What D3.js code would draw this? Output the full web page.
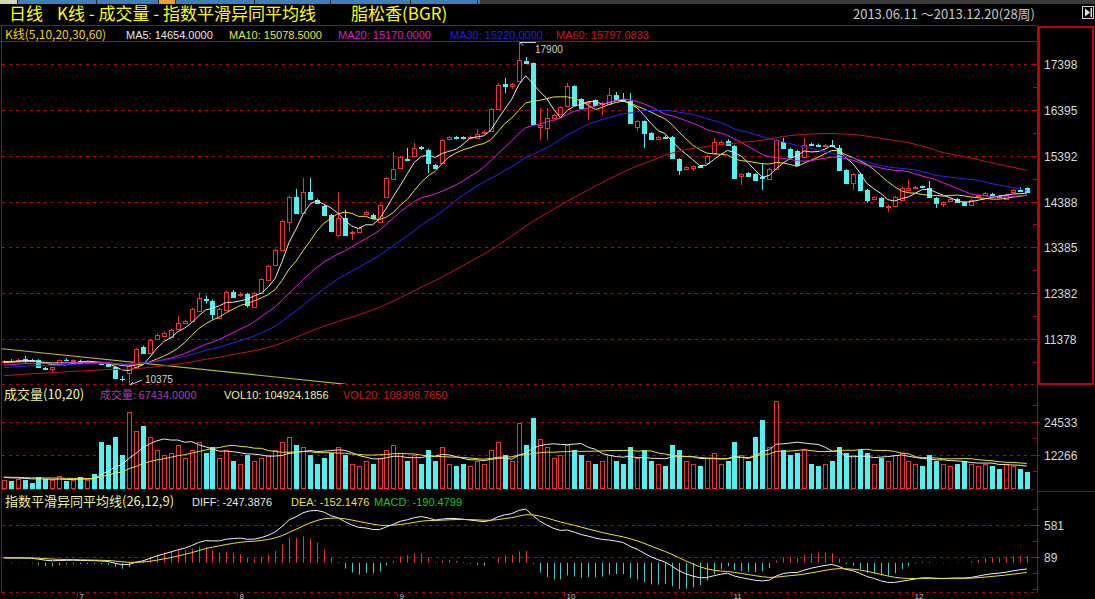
<!DOCTYPE html>
<html><head><meta charset="utf-8">
<script src="https://cdn.jsdelivr.net/npm/d3@7"></script>
<style>
html,body{margin:0;padding:0;background:#000;overflow:hidden;}
svg{display:block;}
</style></head><body>
<svg id="c" width="1095" height="599"></svg>
<script>
// ---------------- DATA ----------------
const open  = [10860,10890,10880,10930,10910,10910,10740,10710,10820,10915,10890,10900,10850,10860,10850,10830,10760,10500,10626,10747,
11207,11076,11382,11448,11426,11601,11730,11776,11995,12240,12214,11842,12017,12411,12330,12367,12083,12390,12674,13002,
13331,13944,14492,14141,14601,14426,14295,14098,13660,14032,13703,13725,14120,14098,13944,14492,14886,15127,15324,15389,
15575,15521,15192,15236,15770,15800,15800,15780,15783,15890,15937,16419,16970,16930,17032,17470,17420,16020,16003,16222,
16310,16485,16923,16638,16540,16616,16530,16529,16726,16630,16595,16025,16156,15894,15762,15810,15806,15324,15105,15130,
15170,15236,15455,15660,15718,15609,14950,15017,14995,14920,14886,15105,15696,15543,15499,15367,15660,15640,15600,15640,
15565,15083,14798,14995,14645,14448,14470,14270,14295,14426,14650,14680,14720,14689,14470,14340,14410,14450,14380,14317,
14500,14540,14560,14500,14448,14600,14640,14680];
const high  = [10910,10930,10950,11000,10940,10930,10760,10760,10930,10950,10930,10920,10890,10880,10870,10850,10770,10560,10810,11180,
11230,11380,11500,11540,11600,11886,11800,12060,12390,12330,12240,12060,12440,12450,12400,12390,12410,12720,13000,13350,
13990,14520,14667,14908,14908,14450,14320,14120,14601,14207,13750,13830,14190,14120,14340,14930,15477,15390,15565,15674,
15610,15550,15210,15760,15830,15830,15820,15840,15980,15950,16440,16989,17098,16990,17900,17558,17440,16441,16441,16310,
16480,16989,16940,16660,16590,16630,16580,16879,16791,16770,16770,16170,16170,15910,15830,15840,15830,15340,15170,15180,
15190,15410,15784,15740,15760,15630,15010,15040,15010,15236,15130,15760,15784,15570,15520,15784,15680,15660,15650,15740,
15630,15100,15020,15020,14670,14510,14490,14320,14510,14720,14864,14730,14740,14842,14490,14390,14460,14470,14400,14450,
14550,14600,14580,14520,14560,14660,14700,14700];
const low   = [10840,10860,10860,10850,10880,10740,10690,10650,10800,10880,10870,10830,10830,10820,10800,10780,10500,10440,10375,10730,
11050,11060,11350,11420,11400,11580,11700,11760,11980,12150,11798,11820,12000,12280,12300,12061,12060,12370,12650,12980,
13310,13725,14120,14120,14420,14330,14070,13720,13616,13640,13550,13700,14090,14010,13920,14470,14860,15100,15280,15370,
15520,15017,15100,15210,15750,15750,15750,15760,15760,15870,15920,16400,16770,16857,17020,17400,16070,15740,15740,16200,
16290,16470,16490,16420,16178,16490,16288,16510,16620,16580,16090,15937,15565,15740,15740,15770,15320,14973,15080,15060,
15120,15210,15430,15640,15610,14880,14755,14930,14840,14645,14860,15080,15540,15340,15170,15340,15610,15590,15580,15590,
15060,14780,14645,14620,14360,14420,14270,14160,14270,14400,14620,14660,14680,14470,14250,14270,14390,14360,14290,14300,
14480,14520,14510,14460,14430,14580,14600,14580];
const close = [10890,10880,10920,10920,10900,10760,10710,10750,10910,10905,10910,10840,10870,10850,10830,10790,10520,10490,10780,11163,
11076,11360,11470,11514,11579,11732,11770,12039,12280,12225,11930,12039,12411,12302,12370,12126,12390,12696,12980,13331,
13966,14492,14141,14601,14448,14360,14098,13747,14032,13660,13725,13813,14163,14032,14317,14908,15105,15367,15302,15565,
15555,15236,15127,15740,15800,15780,15775,15810,15870,15920,16419,16945,16930,16960,17492,17420,16091,16060,16222,16288,
16463,16923,16507,16441,16570,16507,16560,16726,16638,16600,16112,16156,15894,15762,15806,15790,15346,15083,15149,15160,
15150,15389,15696,15690,15630,14908,14990,14951,14864,14900,15105,15740,15565,15367,15192,15630,15630,15610,15630,15610,
15083,14798,14995,14645,14426,14492,14295,14300,14492,14689,14680,14710,14700,14492,14360,14370,14440,14380,14317,14426,
14530,14580,14530,14480,14536,14640,14620,14600];
const volume = [3000,2500,3500,3000,2000,4000,3500,3000,4500,2500,3000,4000,3000,5000,17000,16000,19000,12000,28000,21000,
23000,19000,14000,12000,13000,16000,11000,14000,17000,13000,15000,11000,14000,10000,9000,12000,10000,11000,12000,14000,
17000,19000,16000,15000,12000,9000,11000,13000,15000,12000,9000,8000,10000,9000,11000,14000,16000,13000,10000,12000,
9000,14000,10000,15000,9000,8000,9000,8000,10000,9000,14000,17000,12000,10000,24000,16000,26000,18000,15000,11000,
12000,16000,14000,12000,10000,9000,10000,12000,10000,9000,15000,11000,14000,10000,9000,8000,16000,14000,10000,9000,
8000,11000,13000,9000,10000,17000,12000,10000,19000,25000,15000,32000,14000,12000,13000,14000,9000,8000,9000,10000,
15000,13000,12000,14000,13000,9000,11000,10000,12000,13000,10000,9000,8000,12000,10000,9000,8000,9000,10000,9000,
8000,9000,8000,7000,9000,8000,7000,6000];
// closes / volumes before the visible window (needed by the moving averages and MACD)
const historyClose = [10240,10270,10230,10260,10300,10280,10310,10290,10330,10350,
10320,10360,10380,10350,10390,10410,10380,10420,10440,10410,
10450,10470,10440,10480,10500,10470,10510,10530,10560,10540,
10570,10600,10580,10620,10640,10610,10650,10680,10660,10700,
10720,10690,10730,10750,10720,10760,10780,10760,10800,10820,
10790,10830,10850,10820,10860,10880,10850,10870,10890];
const historyVolume = [4000,3500,5000,4200,3800,4500,3000,5200,4100,3600,4400,3900,4800,3500,4200,3700,4600,3300,4000];
const maPeriods = [5,10,20,30,60];
const maColors  = ["#e8e8e8","#e8e040","#e020e0","#2828f0","#c81414"];
const priceTicks = [11378,12382,13385,14388,15392,16395,17398];
const volumeTicks = [12266,24533];
const macdTicks = [89,581];
const monthLabels = ["7","8","9","10","11","12"];
const monthStart  = [11,34,57,81,105,131];
const trendLine = [{i:-0.5, v:11163},{i:49.2, v:10380}];

// ---------------- DRAW ----------------
const svg = d3.select("#c");
const RED = "#b40000", UP = "#f03232", DOWN = "#54f0f0";
const CJK = "'Noto Sans CJK SC','Noto Sans',sans-serif";
const LAT = "'Liberation Sans',Arial,sans-serif";
svg.append("rect").attr("width",1095).attr("height",599).attr("fill","#000");

// top tab strip
const strip = svg.append("g");
strip.append("rect").attr("x",0).attr("y",0).attr("width",1095).attr("height",4).attr("fill","#3a3a3a");
strip.append("rect").attr("x",0).attr("y",0).attr("width",480).attr("height",4).attr("fill","#3f7fb8");
strip.append("rect").attr("x",0).attr("y",0).attr("width",17).attr("height",4).attr("fill","#d8d8b0");
strip.append("rect").attr("x",158).attr("y",0).attr("width",17).attr("height",4).attr("fill","#f0a030");
[17,96,158,175,254,330,410,477].forEach(s=>strip.append("rect").attr("x",s).attr("y",0).attr("width",1).attr("height",4).attr("fill","#202020"));

// title
svg.append("text").attr("x",9).attr("y",20).attr("fill","#ffff00").attr("font-family",CJK).attr("font-size",17).text("日线");
svg.append("text").attr("x",57).attr("y",20).attr("fill","#ffff00").attr("font-family",CJK).attr("font-size",17).text("K线 - 成交量 - 指数平滑异同平均线");
svg.append("text").attr("x",351).attr("y",20).attr("fill","#ffff00").attr("font-family",CJK).attr("font-size",17).text("脂松香(BGR)");
svg.append("text").attr("x",1035).attr("y",19).attr("text-anchor","end").attr("fill","#c8c8c8").attr("font-family",CJK).attr("font-size",13).text("2013.06.11 ～2013.12.20(28周)");
// small button
svg.append("rect").attr("x",1082.5).attr("y",6.5).attr("width",11).attr("height",12).attr("fill","#000").attr("stroke","#d0d0d0");
svg.append("path").attr("d","M1085,8.5 L1090,12.5 L1085,16.5 Z").attr("fill","#e0e0e0");
svg.append("rect").attr("x",1090.5).attr("y",8).attr("width",1.5).attr("height",9).attr("fill","#e0e0e0");

// scales
const N = close.length;
const x = d3.scaleLinear().domain([0, N-1]).range([3.7, 1026.8]);
const yP = d3.scaleLinear().domain([10375, 17900]).range([384.5, 41.5]);
const yV = d3.scaleLinear().domain([0, 32000]).range([488, 401.3]);
const yM = d3.scaleLinear().domain([-450, 860]).range([592, 507]);
const cx = i => Math.round(x(i));

// frame lines
const frame = svg.append("g");
function hline(y, x1, x2, dashed, color){ frame.append("line").attr("x1",x1).attr("x2",x2).attr("y1",y).attr("y2",y)
  .attr("stroke",color||RED).attr("stroke-width",1).attr("stroke-dasharray",dashed?"3,4":null); }
hline(25.5,0,1038); hline(41.5,0,1038);
frame.append("line").attr("x1",1.5).attr("x2",1.5).attr("y1",25).attr("y2",593).attr("stroke",RED);
frame.append("line").attr("x1",1037.5).attr("x2",1037.5).attr("y1",25).attr("y2",593).attr("stroke",RED);
hline(384.5,2,1037,true); hline(489.5,2,1037,true); hline(592.5,2,1037,true);
hline(491.5,1037,1095);
// right axis box of main panel
frame.append("rect").attr("x",1039).attr("y",27).attr("width",54).attr("height",357).attr("fill","none").attr("stroke","#c00000").attr("stroke-width",2);

// grid lines + axis labels
priceTicks.forEach(t=>hline(Math.round(yP(t))+0.5,2,1037,true));
volumeTicks.forEach(t=>hline(Math.round(yV(t))+0.5,2,1037,true));
macdTicks.forEach(t=>hline(Math.round(yM(t))+0.5,2,1037,true));
function axisLabels(ticks, sc, minor){
  ticks.forEach(t=>{
    const y = Math.round(sc(t))+0.5;
    frame.append("line").attr("x1",1031).attr("x2",1040).attr("y1",y).attr("y2",y).attr("stroke",RED);
    svg.append("text").attr("x",1044).attr("y",y+4.5).attr("fill","#d8d8d8").attr("font-family",LAT).attr("font-size",12).text(t);
  });
  minor.forEach(t=>{ const y = Math.round(sc(t))+0.5;
    frame.append("line").attr("x1",1033).attr("x2",1037).attr("y1",y).attr("y2",y).attr("stroke",RED); });
}
const pStep = priceTicks[1]-priceTicks[0];
axisLabels(priceTicks, yP, priceTicks.map(t=>t+pStep/2).concat([priceTicks[0]-pStep/2]).filter(t=>yP(t)>42&&yP(t)<384));
axisLabels(volumeTicks, yV, [volumeTicks[0]/2, volumeTicks[0]*1.5, volumeTicks[1]+volumeTicks[0]/2]);
axisLabels(macdTicks, yM, [macdTicks[0]-(macdTicks[1]-macdTicks[0])/2, (macdTicks[0]+macdTicks[1])/2, macdTicks[1]+(macdTicks[1]-macdTicks[0])/2, macdTicks[0]-(macdTicks[1]-macdTicks[0])]);

// legends
function legend(items, y){
  items.forEach(([tx,xx,col,fam,fs])=>svg.append("text").attr("x",xx).attr("y",y).attr("fill",col).attr("font-family",fam).attr("font-size",fs).text(tx));
}
legend([["K线(5,10,20,30,60)",5,"#f0d020",CJK,12],["MA5: 14654.0000",126,"#e8e8e8",LAT,11],["MA10: 15078.5000",229,"#e8e040",LAT,11],
  ["MA20: 15170.0000",338,"#d020d0",LAT,11],["MA30: 15220.0000",450,"#2020e8",LAT,11],["MA60: 15797.0833",556,"#d01818",LAT,11]],38.5);
legend([["成交量(10,20)",4,"#f0f0a0",CJK,13],["成交量: 67434.0000",100,"#a040b0",CJK,11],["VOL10: 104924.1856",224,"#f0f0a0",LAT,11],
  ["VOL20: 108398.7650",343,"#d01818",LAT,11]],399);
legend([["指数平滑异同平均线(26,12,9)",5,"#f0f0a0",CJK,13],["DIFF: -247.3876",192,"#e8e8e8",LAT,11],["DEA: -152.1476",291,"#e8e040",LAT,11],
  ["MACD: -190.4799",374,"#20c020",LAT,11]],505.5);

// clip for the price panel
svg.append("clipPath").attr("id","cp").append("rect").attr("x",2).attr("y",42).attr("width",1035).attr("height",342);
const pg = svg.append("g").attr("clip-path","url(#cp)");

// trend line annotation
pg.append("line").attr("x1",x(trendLine[0].i)).attr("y1",yP(trendLine[0].v)).attr("x2",x(trendLine[1].i)).attr("y2",yP(trendLine[1].v))
  .attr("stroke","#b8b83c").attr("stroke-width",1.2);

// moving averages
const allClose = historyClose.concat(close);
const H0 = historyClose.length;
function movAvg(all, h, n){ return close.map((_,i)=>{ const j=i+h; if(j-n+1<0) return null; return d3.mean(all.slice(j-n+1,j+1)); }); }
const mas = maPeriods.map(n=>movAvg(allClose,H0,n));
// candles
const cg = pg.append("g");
for(let i=0;i<N;i++){
  const c = cx(i), up = close[i] >= open[i];
  const col = up ? UP : DOWN;
  const yo = yP(open[i]), yc = yP(close[i]);
  cg.append("line").attr("x1",c+0.5).attr("x2",c+0.5).attr("y1",yP(high[i])).attr("y2",yP(low[i])).attr("stroke",col);
  const top = Math.round(Math.min(yo,yc)), bot = Math.round(Math.max(yo,yc));
  if(bot-top < 1){
    cg.append("line").attr("x1",c-2).attr("x2",c+3).attr("y1",top+0.5).attr("y2",top+0.5).attr("stroke",col);
  } else if(up){
    cg.append("rect").attr("x",c-1.5).attr("y",top+0.5).attr("width",4).attr("height",bot-top).attr("fill","#000").attr("stroke",col);
  } else {
    cg.append("rect").attr("x",c-2).attr("y",top).attr("width",5).attr("height",bot-top+1).attr("fill",col);
  }
}
const lineGen = d3.line().defined(d=>d.v!=null).x(d=>x(d.i)).y(d=>d.v);
mas.forEach((arr,k)=>{
  pg.append("path").datum(arr.map((v,i)=>({i, v: v==null?null:yP(v)}))).attr("d",lineGen)
    .attr("fill","none").attr("stroke",maColors[k]).attr("stroke-width",1);
});

// max / min annotations
const iMax = d3.maxIndex(high), iMin = d3.minIndex(low);
const ann = svg.append("g").attr("fill","none").attr("stroke","#d0d0d0");
{ const ax = cx(iMax)+1, ay = Math.round(yP(high[iMax]))+0.5;
  ann.append("path").attr("d",`M${ax+3},${ay+3} L${ax},${ay} L${ax+16},${ay}`);
  svg.append("text").attr("x",ax+15).attr("y",ay+10).attr("fill","#d0d0d0").attr("font-family",LAT).attr("font-size",10).text(high[iMax]); }
{ const ax = cx(iMin)+1, ay = Math.round(yP(low[iMin]));
  ann.append("path").attr("d",`M${ax+3},${ay-3} L${ax},${ay} L${ax+12},${ay-5}`);
  svg.append("text").attr("x",ax+15).attr("y",ay-2).attr("fill","#d0d0d0").attr("font-family",LAT).attr("font-size",10).text(low[iMin]); }

// volume
const vg = svg.append("g");
for(let i=0;i<N;i++){
  const c = cx(i), up = close[i] >= open[i];
  const t = Math.round(yV(volume[i])), b = Math.round(yV(0));
  if(up) vg.append("rect").attr("x",c-1.5).attr("y",t+0.5).attr("width",4).attr("height",b-t).attr("fill","#000").attr("stroke",UP);
  else vg.append("rect").attr("x",c-2).attr("y",t).attr("width",5).attr("height",b-t+1).attr("fill",DOWN);
}
const allVol = historyVolume.concat(volume);
function volAvg(n){ return volume.map((_,i)=>{ const j=i+historyVolume.length; if(j-n+1<0) return null; return d3.mean(allVol.slice(j-n+1,j+1)); }); }
[[10,"#e8e8e8"],[20,"#e8e040"]].forEach(([n,col])=>{
  vg.append("path").datum(volAvg(n).map((v,i)=>({i, v: v==null?null:yV(v)}))).attr("d",lineGen)
    .attr("fill","none").attr("stroke",col).attr("stroke-width",1);
});

// MACD
let e12 = allClose[0], e26 = allClose[0], dea = 0;
const diffA=[], deaA=[], macdA=[];
allClose.forEach((c,k)=>{
  e12 += (c-e12)*2/13; e26 += (c-e26)*2/27;
  const d = e12-e26; dea += (d-dea)*2/10;
  if(k>=H0){ diffA.push(d); deaA.push(dea); macdA.push(2*(d-dea)); }
});
svg.append("clipPath").attr("id","cm").append("rect").attr("x",2).attr("y",508).attr("width",1035).attr("height",84);
const mg = svg.append("g").attr("clip-path","url(#cm)");
macdA.forEach((m,i)=>{
  mg.append("line").attr("x1",cx(i)+0.5).attr("x2",cx(i)+0.5).attr("y1",yM(0)).attr("y2",yM(m))
    .attr("stroke", m>=0 ? UP : "#40c8c8");
});
[[diffA,"#f0f0f0"],[deaA,"#e8e040"]].forEach(([arr,col])=>{
  mg.append("path").datum(arr.map((v,i)=>({i, v:yM(v)}))).attr("d",lineGen).attr("fill","none").attr("stroke",col).attr("stroke-width",1);
});

// month axis
monthStart.forEach((s,k)=>{
  const mx = Math.round(x(s-0.5))+0.5;
  frame.append("line").attr("x1",mx).attr("x2",mx).attr("y1",593).attr("y2",597).attr("stroke",RED);
  svg.append("text").attr("x",mx+2).attr("y",598.5).attr("fill","#c8c8c8").attr("font-family",LAT).attr("font-size",8).text(monthLabels[k]);
});
</script>
</body></html>
